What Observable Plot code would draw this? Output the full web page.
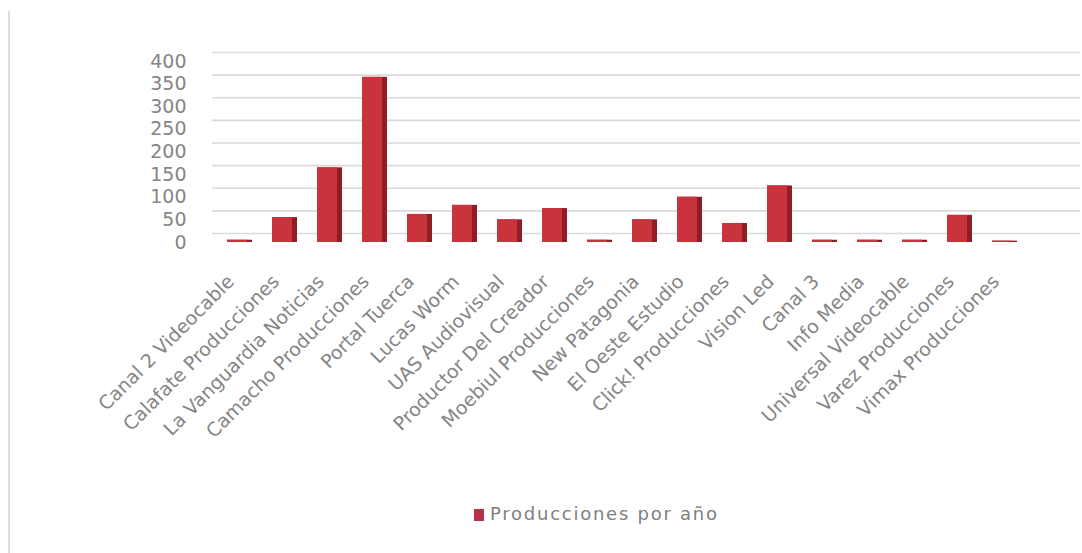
<!DOCTYPE html>
<html>
<head>
<meta charset="utf-8">
<script src="https://cdn.jsdelivr.net/npm/d3@7"></script>
<script src="https://cdn.jsdelivr.net/npm/@observablehq/plot@0.6"></script>
<style>
  html, body { margin: 0; padding: 0; background: #fff; }
  #wrap { position: relative; width: 1082px; height: 553px; overflow: hidden; font-family: "DejaVu Sans", sans-serif; }
  #edge { position: absolute; left: 8px; top: 11px; bottom: 0; width: 2px; background: #dcdcdc; }
  #legend { position: absolute; left: 474px; top: 503px; white-space: nowrap;
            font-size: 18px; color: #808080; letter-spacing: 1.75px; }
  #legend .sw { display: inline-block; width: 10px; height: 12px; background: #b8304a; margin-right: 6px; vertical-align: -1px; }
</style>
</head>
<body>
<div id="wrap">
  <div id="edge"></div>
  <div id="chart"></div>
  <div id="legend"><span class="sw"></span>Producciones por año</div>
</div>
<script>
const categories = [
  "Canal 2 Videocable", "Calafate Producciones", "La Vanguardia Noticias", "Camacho Producciones",
  "Portal Tuerca", "Lucas Worm", "UAS Audiovisual", "Productor Del Creador", "Moebiul Producciones",
  "New Patagonia", "El Oeste Estudio", "Click! Producciones", "Vision Led", "Canal 3", "Info Media",
  "Universal Videocable", "Varez Producciones", "Vimax Producciones"
];
const values = [5, 55, 165, 365, 62, 82, 50, 75, 5, 50, 100, 42, 125, 5, 5, 5, 60, 3];
const yTicks = [0, 50, 100, 150, 200, 250, 300, 350, 400];
const seriesName = "Producciones por año";

const data = categories.map((c, i) => ({name: c, value: values[i]}));

const chart = Plot.plot({
  width: 1082,
  height: 495,
  marginLeft: 212,
  marginRight: 2,
  marginTop: 61,
  marginBottom: 253,
  style: {fontFamily: "DejaVu Sans, sans-serif", background: "transparent"},
  x: {domain: categories, range: [212, 1031], paddingInner: 0.45, paddingOuter: 0.225},
  y: {domain: [0, 400]},
  marks: [
    Plot.gridY(yTicks, {stroke: "#dadada", strokeOpacity: 1, strokeWidth: 1.6, dy: -9}),
    Plot.barY(data, {x: "name", y: "value", fill: "#8e1d26"}),
    Plot.barY(data, {x: "name", y: "value", fill: "#c9343c", insetRight: 5}),
    Plot.axisY(yTicks, {tickSize: 0, tickPadding: 26, fontSize: 19, fill: "#858585", label: null,
                style: {letterSpacing: "3.5px"}}),
    Plot.axisX({tickRotate: -45, tickSize: 0, tickPadding: 34, fontSize: 19, fill: "#858585", label: null,
                dx: -9, dy: 2, style: {letterSpacing: "2.6px"}})
  ]
});
document.getElementById("chart").appendChild(chart);
</script>
</body>
</html>
